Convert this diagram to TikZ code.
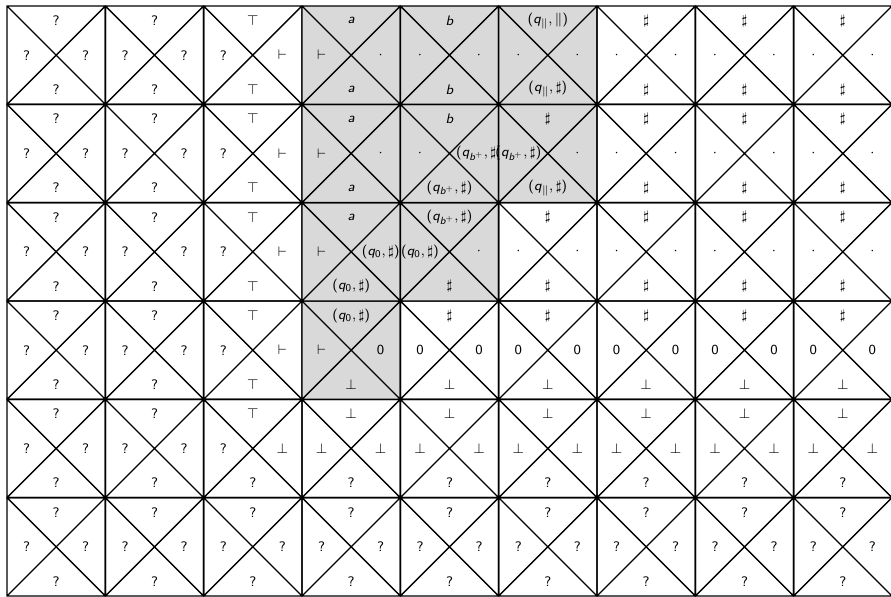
\documentclass[tikz,border=0pt]{standalone}
\usepackage{amsmath,amssymb}
\usepackage{xcolor}
\usepackage{tikz}
\SetSymbolFont{operators}{normal}{TU}{lmss}{m}{n}
\DeclareMathAlphabet{\mathsfit}{TU}{lmss}{m}{sl}
\definecolor{shade}{HTML}{D9D9D9}
\tikzset{lbl/.style={font=\footnotesize,inner sep=0pt}}
\newcommand{\wt}[7][none]{\path[fill=#1] (#2,#3) rectangle ++(1,1); \draw[thick] (#2,#3) rectangle ++(1,1) (#2,#3)--++(1,1) (#2,#3+1)--++(1,-1);
\node[lbl] (t#2#3) at (#2+.5,#3+.85) {$#4$}; \node[lbl] (l#2#3) at (#2+.2,#3+.5) {$#5$};
\node[lbl] (r#2#3) at (#2+.8,#3+.5) {$#6$}; \node[lbl] (b#2#3) at (#2+.5,#3+.15) {$#7$};}
\newcommand{\qs}[1]{(\mathsfit{q}_{#1},\sharp)}

\begin{document}
\begin{tikzpicture}[x=2cm,y=2cm]
\useasboundingbox (-0.071,-0.01) rectangle (8.99,6.061);
\foreach \y in {0,...,5} {\wt{0}{\y}{?}{?}{?}{?} \wt{1}{\y}{?}{?}{?}{?}}
\foreach \y in {2,...,5} {\wt{2}{\y}{\top}{?}{\vdash}{\top}}
\wt{2}{1}{\top}{?}{\bot}{?}
\foreach \x in {2,...,8} {\wt{\x}{0}{?}{?}{?}{?}}
\foreach \x in {3,...,8} {\wt{\x}{1}{\bot}{\bot}{\bot}{?}}
% row with the zeros
\wt[shade]{3}{2}{\qs{0}}{\vdash}{0}{\bot}
\foreach \x in {4,...,8} {\wt{\x}{2}{\sharp}{0}{0}{\bot}}
\wt[shade]{3}{3}{\mathsfit{a}}{\vdash}{\qs{0}}{\qs{0}} \wt[shade]{4}{3}{\qs{\mathsfit{b}^+}}{\qs{0}}{\cdot}{\sharp}
\foreach \x in {5,...,8} {\wt{\x}{3}{\sharp}{\cdot}{\cdot}{\sharp}}
\wt[shade]{3}{4}{\mathsfit{a}}{\vdash}{\cdot}{\mathsfit{a}} \wt[shade]{4}{4}{\mathsfit{b}}{\cdot}{\qs{\mathsfit{b}^+}}{\qs{\mathsfit{b}^+}} \wt[shade]{5}{4}{\sharp}{\qs{\mathsfit{b}^+}}{\cdot}{\qs{\|}}
\wt[shade]{3}{5}{\mathsfit{a}}{\vdash}{\cdot}{\mathsfit{a}} \wt[shade]{4}{5}{\mathsfit{b}}{\cdot}{\cdot}{\mathsfit{b}} \wt[shade]{5}{5}{(\mathsfit{q}_{\|},\|)}{\cdot}{\cdot}{\qs{\|}}
\foreach \y in {4,5} {\foreach \x in {6,7,8} {\wt{\x}{\y}{\sharp}{\cdot}{\cdot}{\sharp}}}
\end{tikzpicture}
\end{document}
